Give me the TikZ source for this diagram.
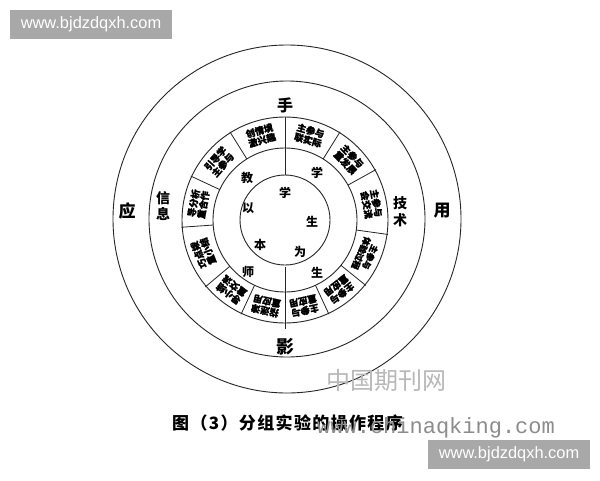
\documentclass[tikz,border=0pt]{standalone}
\usepackage{fontspec}
\usetikzlibrary{calc}
\setmainfont{Liberation Sans}
\newfontfamily\cjk{Noto Sans CJK SC}
\newfontfamily\monowm{Liberation Mono}
\tikzset{
  ringline/.style={line width=0.9pt, draw=black!85},
  divline/.style={line width=0.8pt, draw=black!85},
  seglabel/.style={font=\cjk\bfseries\fontsize{9.3}{9.8}\selectfont\addfontfeature{FakeBold=1.2}, align=center, inner sep=0pt},
  midchar/.style={font=\cjk\bfseries\fontsize{12}{12}\selectfont, inner sep=0pt},
  bigchar/.style={font=\cjk\bfseries\fontsize{16}{16}\selectfont, inner sep=0pt},
  graybox/.style={fill=black!34, draw=none, text=white, font=\fontsize{16.4}{16.4}\selectfont, inner sep=0pt, minimum width=162pt, minimum height=29pt},
}
\begin{document}
\begin{tikzpicture}[x=1pt,y=-1pt]
\useasboundingbox (0,0) rectangle (600,480);
\fill[white] (0,0) rectangle (600,480);
\coordinate (c) at (285,220);
\coordinate (co) at (287,219);
% circles
\draw[ringline] (co) circle[radius=174pt];
\draw[ringline] (co) circle[radius=138pt];
\draw[ringline] (c) circle[radius=103pt];
\draw[ringline] (c) circle[radius=72pt];
\draw[ringline] (c) circle[radius=45pt];
% vertical lines through the middle annulus
\draw[divline] ($(c)+(90:45pt)$) -- ($(c)+(90:103pt)$);
\draw[divline] ($(c)+(-90:47pt)$) -- ($(c)+(-90:109pt)$);
% segment dividers
\foreach \a in {58,29,-8,-39,-65,-115,-140,184,155,122}
  \draw[divline] ($(c)+(\a:72pt)$) -- ($(c)+(\a:104pt)$);
% segment texts
\foreach \m/\ta/\tb in {74/主参与/联实际, 43.5/主参与/重发展, 10.5/主参与/会交流, -52/主参与/重应用, -77.5/主参与/重应用, -102.5/指迷津/重应用, -127.5/导小结/重交流, -158/巧点拨/重小结, 169.5/导分析/重合作, 138.5/引导学/主参与, 106/创情境/激兴趣}
  \node[seglabel, rotate=\m-90] (s\m) at ($(c)+(\m:88pt)$) {\ta\\\tb};
\node[seglabel, rotate=-113.5, font=\cjk\bfseries\fontsize{8.6}{9.8}\selectfont\addfontfeature{FakeBold=1.2}] (s9) at ($(c)+(-23.5:88pt)$) {主参与\\体验过程};
% inner circle
\node[midchar] (i1) at (285,193) {学};
\node[midchar] (i2) at (312,222) {生};
\node[midchar] (i3) at (300,252) {为};
\node[midchar] (i4) at (260,245) {本};
\node[midchar] (i5) at (248,208) {以};
% middle annulus
\node[midchar] (m1) at (247,178) {教};
\node[midchar] (m2) at (317,173) {学};
\node[midchar] (m3) at (317,273) {生};
\node[midchar] (m4) at (248,272) {师};
% outer labels
\node[bigchar] (o1) at (285,105) {手};
\node[bigchar, font=\cjk\bfseries\fontsize{14}{14}\selectfont] (o2) at (400,203) {技};
\node[bigchar, font=\cjk\bfseries\fontsize{14}{14}\selectfont] (o3) at (400,220) {术};
\node[bigchar, font=\cjk\bfseries\fontsize{18}{18}\selectfont] (o4) at (285,347) {影};
\node[bigchar, font=\cjk\bfseries\fontsize{14}{14}\selectfont] (o5) at (163,198) {信};
\node[bigchar, font=\cjk\bfseries\fontsize{14}{14}\selectfont] (o6) at (163,214) {息};
\node[bigchar, font=\cjk\bfseries\fontsize{17}{17}\selectfont] (o7) at (442,211) {用};
\node[bigchar, font=\cjk\bfseries\fontsize{17}{17}\selectfont] (o8) at (127,211) {应};
% watermarks
\node[font=\cjk\fontsize{24}{24}\selectfont, text=black!28, inner sep=0pt] (wm1) at (386,380) {中国期刊网};
\node[font=\cjk\bfseries\fontsize{17}{17}\selectfont\addfontfeature{LetterSpace=8}, anchor=west, inner sep=0pt] (cap) at (172,423) {图（3）分组实验的操作程序};
\node[font=\monowm\fontsize{22}{22}\selectfont, text=black!45, anchor=west, inner sep=0pt] (wm2) at (317,428) {www.chinaqking.com};
% gray boxes
\node[graybox] (b1) at (91,24.5) {www.bjdzdqxh.com};
\node[graybox] (b2) at (509,454.5) {www.bjdzdqxh.com};
\end{tikzpicture}
\end{document}
